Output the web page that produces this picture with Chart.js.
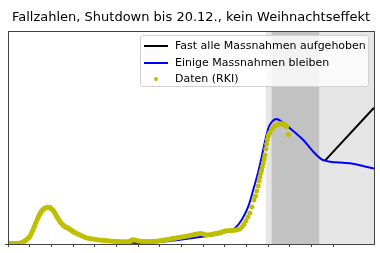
<!DOCTYPE html>
<html>
<head>
<meta charset="utf-8">
<script src="https://cdn.jsdelivr.net/npm/chart.js@4.4.0/dist/chart.umd.min.js"></script>
<style>
  body { margin: 0; background: #fff; }
  #wrap { position: relative; width: 380px; height: 253px; }
  #legend {
    position: absolute; left: 140px; top: 35px; width: 229px; height: 52px;
    box-sizing: border-box; border: 1px solid #d0d0d0; border-radius: 3px;
    background: rgba(255,255,255,0.8);
    font-family: "DejaVu Sans", sans-serif; font-size: 11px; color: #000;
  }
  .row { position: absolute; left: 0; height: 14px; line-height: 14px; white-space: nowrap; }
  .row .txt { position: absolute; left: 34px; top: 0; }
  .row .ln { position: absolute; left: 3px; top: 6px; width: 24px; height: 2px; }
  .row .dot { position: absolute; left: 13px; top: 5px; width: 4px; height: 4px; border-radius: 50%; background: #bfbf00; }
</style>
</head>
<body>
<div id="wrap">
  <canvas id="myChart" width="380" height="253"></canvas>
  <div id="legend">
    <div class="row" style="top:3px"><span class="ln" style="background:#000"></span><span class="txt">Fast alle Massnahmen aufgehoben</span></div>
    <div class="row" style="top:19.7px"><span class="ln" style="background:#0000ff"></span><span class="txt">Einige Massnahmen bleiben</span></div>
    <div class="row" style="top:36.3px"><span class="dot"></span><span class="txt">Daten (RKI)</span></div>
  </div>
</div>
<script>
// Tage seit Ende Februar, Fälle pro Tag (7-Tage-Mittel)
let rkiDays = [0,1.5,3,4.5,6,7.5,9,10.5,12,13,14,15,16,17,18,19,20,21,22,23,24,25,26,27,28,29,30,31,32,33,34,35,36,37,38,39,
  40,41,42,43,44,45,46,47,48,49,50,51,52,53,54,55,56,57,58,59,60,61,62,64,66,68,70,72,74,76,78,80,82,84,86,88,90,92,94,96,98,
  100,102,104,106,108,110,112,113,114,115.5,117,118.5,120,122,124,126,128,130,132,134,136,138,140,142,144,146,148,150,152,154,
  156,158,160,162,164,166,168,170,172,174,176,178,180,182,184,186,188,190,192,194,196,198,200,202,204,206,208,210,212,
  213.8,215.7,217.5,219.4,221.2,223.1,224.9,226.8,228.2,229.5,230.7,231.6,232.3,233.2,233.9,234.6,235.4,236.2,
  236.9,237.7,238.5,239.2,240,240.8,241.5,243.1,244.6,246.1,247.7,249.2,250.7,252.3,253.8,255.4,256.9,258.4]
let rkiCases = [60,60,65,70,75,85,100,130,180,200,300,400,520,650,800,950,1100,1400,1750,2100,2500,2900,3300,3700,4000,4350,
  4650,4900,5100,5250,5350,5420,5450,5480,5480,5420,5300,5150,4950,4700,4400,4100,3850,3600,3350,3150,2950,2800,2650,2550,
  2480,2420,2330,2220,2100,1980,1870,1780,1700,1540,1380,1220,1080,950,870,800,740,700,650,610,580,545,515,480,450,425,400,
  375,360,350,345,345,350,380,470,560,640,600,520,440,405,385,378,375,375,385,405,430,465,500,540,590,650,710,760,810,860,
  920,980,1040,1100,1150,1210,1280,1360,1430,1490,1540,1570,1490,1400,1360,1400,1460,1530,1590,1650,1740,1850,1950,1990,2000,2010,2040,2100,2180,
  2250,2550,2925,3450,4050,4650,5550,6600,7200,7950,8700,9450,10050,10650,11100,11625,12150,12750,
  13350,14250,15000,15675,16200,16500,16725,17250,17475,17700,17850,17955,18030,18045,18000,17775,17625,16425]

let someDays = [0,11,15.4,20,24.6,29.2,32.9,35.2,38.5,43.1,47.7,53.9,60,69.2,84.6,100,112.3,121.6,140,158.5,176.9,195.4,204.6,209.2,
  215.4,221.5,226.1,230.7,233.9,236.9,240,243.1,247.7,252.3,263,272.3,281.5,289.2,292.3,296.9,315.4,337.5]
let someCases = [0,60,300,1200,3150,4800,5475,5600,5475,4650,3450,2600,1850,1100,600,350,230,150,300,650,1050,1500,2030,2355,
  3600,5600,8100,10800,13050,15300,17325,18300,18750,18345,16950,15600,13845,12705,12500,12350,12100,11325]

let allDays = [292.3,337.5]
let allCases = [12500,20450]

// Zeiträume (Tage)
let phaseStart = 237.8
let shutdownStart = 243.1
let shutdownEnd = 287.0
let xMax = 337.5
let yMax = 31950

function pts(xs, ys) { return xs.map((x, i) => ({x: x, y: ys[i]})) }

const bands = {
  id: 'bands',
  beforeDatasetsDraw(chart) {
    let {ctx, chartArea: a, scales: {x}} = chart
    ctx.save()
    ctx.fillStyle = '#e6e6e6'
    let x1 = x.getPixelForValue(phaseStart)
    ctx.fillRect(x1, a.top, a.right - x1, a.bottom - a.top)
    ctx.fillStyle = '#c2c2c2'
    let s1 = x.getPixelForValue(shutdownStart), s2 = x.getPixelForValue(shutdownEnd)
    ctx.fillRect(s1, a.top, s2 - s1, a.bottom - a.top)
    ctx.restore()
  },
  afterDraw(chart) {
    let {ctx, chartArea: a} = chart
    ctx.save()
    ctx.strokeStyle = '#444'
    ctx.lineWidth = 1
    ctx.strokeRect(Math.round(a.left) + 0.5, Math.round(a.top) + 0.5, Math.round(a.right - a.left), Math.round(a.bottom - a.top))
    ctx.restore()
  }
}

const ctx = document.getElementById('myChart')
new Chart(ctx, {
  type: 'scatter',
  data: {
    datasets: [{
      label: 'Daten (RKI)',
      data: pts(rkiDays, rkiCases),
      pointRadius: 2.5,
      pointBackgroundColor: '#bfbf00',
      pointBorderWidth: 0,
      showLine: false,
      order: 0
    }, {
      label: 'Einige Massnahmen bleiben',
      data: pts(someDays, someCases),
      borderColor: '#0000ff',
      borderWidth: 2,
      pointRadius: 0,
      showLine: true,
      cubicInterpolationMode: 'monotone',
      order: 1
    }, {
      label: 'Fast alle Massnahmen aufgehoben',
      data: pts(allDays, allCases),
      borderColor: '#000',
      borderWidth: 2,
      pointRadius: 0,
      showLine: true,
      tension: 0,
      order: 2
    }]
  },
  options: {
    responsive: false,
    animation: false,
    devicePixelRatio: 1,
    layout: { padding: { left: 8, right: 6 } },
    plugins: {
      legend: { display: false },
      tooltip: { enabled: false },
      title: {
        display: true,
        text: 'Fallzahlen, Shutdown bis 20.12., kein Weihnachtseffekt',
        color: '#000',
        font: { family: 'DejaVu Sans', size: 13, weight: 'normal', lineHeight: 1.2 },
        padding: { top: 10, bottom: 5.4 }
      }
    },
    scales: {
      x: {
        type: 'linear', min: 0, max: xMax,
        ticks: { display: false, stepSize: 20 },
        grid: { drawOnChartArea: false, tickLength: 3, color: '#444' },
        border: { color: '#444' },
        afterBuildTicks: s => { s.ticks = s.ticks.filter(t => t.value % 20 === 0) },
        afterFit: s => { s.height = 9 }
      },
      y: {
        min: 0, max: yMax,
        ticks: { display: false, stepSize: 5000 },
        grid: { drawOnChartArea: false, tickLength: 3, color: '#444' },
        border: { color: '#444' },
        afterBuildTicks: s => { s.ticks = s.ticks.filter(t => t.value % 5000 === 0) },
        afterFit: s => { s.width = 0 }
      }
    }
  },
  plugins: [bands]
})
</script>
</body>
</html>
